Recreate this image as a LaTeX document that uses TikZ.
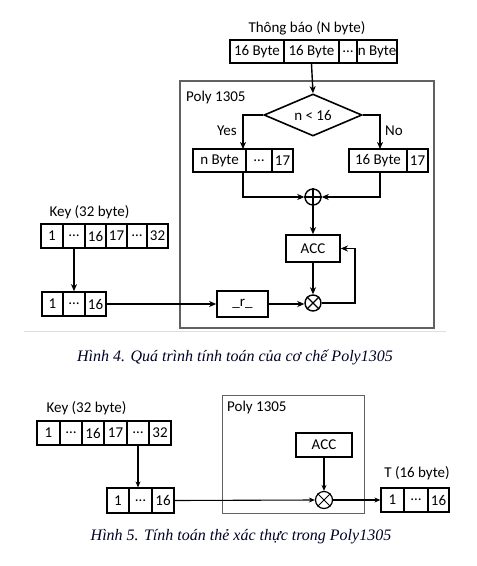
\documentclass[tikz,border=0pt]{standalone}
\usepackage{fontspec}
\setmainfont{Carlito}
\newfontfamily\capfont{Liberation Serif}
\usetikzlibrary{shapes.geometric,arrows.meta}
\tikzset{
  x=1pt,y=-1pt,
  every node/.style={font=\fontsize{15}{17}\selectfont},
  cell/.style={draw,line width=1.6pt,inner sep=0pt,minimum height=23pt},
  cellb/.style={draw,line width=1.2pt,inner sep=0pt,minimum height=24pt},
  lbl/.style={inner sep=0pt},
  arr/.style={line width=1.4pt,-{Stealth[length=7pt,width=6pt,inset=2pt]}},
  arrb/.style={line width=1.1pt,-{Stealth[length=6pt,width=5pt,inset=2pt]}},
  polybox/.style={draw=black!62,line width=1.2pt},
  opnode/.style={circle,draw,line width=1.4pt,minimum size=16pt,inner sep=0pt},
  capt/.style={font=\capfont\itshape\fontsize{16}{18}\selectfont,text=black!85!blue}
}
\begin{document}
\begin{tikzpicture}
\useasboundingbox (0,0) rectangle (477,566);
% ---------- Figure 4 ----------
\draw[polybox] (180,81) rectangle (434,328);
\node[lbl,anchor=west] (p4) at (186,97) {Poly 1305};
\node[lbl] (msgl) at (307,28) {Thông báo (N byte)};
\node[cell,minimum width=54pt] (m1) at (257,51.5) {16 Byte};
\node[cell,minimum width=55pt] (m2) at (311.5,51.5) {16 Byte};
\node[cell,minimum width=18pt] (m3) at (348,51.5) {…};
\node[cell,minimum width=40pt] (m4) at (377,51.5) {n Byte};
\node[diamond,draw,line width=1.6pt,aspect=2.33,minimum width=98pt,minimum height=42pt,inner sep=0pt] (d) at (313,115) {n < 16};
\draw[arr] (m2.south) -- (d.north);
% branches
\node[cell,minimum width=53pt] (a1) at (219.5,160.5) {n Byte};
\node[cell,minimum width=26pt] (a2) at (259,160.5) {…};
\node[cell,minimum width=21pt] (a3) at (282.5,160.5) {17};
\node[cell,minimum width=58pt] (b1) at (378,160.5) {16 Byte};
\node[cell,minimum width=21pt] (b2) at (417.5,160.5) {17};
\coordinate (ya) at (243,149);
\coordinate (nb) at (380,149);
\draw[arr] (d.west) -| (ya);
\draw[arr] (d.east) -| (nb);
\node[lbl] (yes) at (227,131) {Yes};
\node[lbl] (no) at (394,131) {No};
\node[opnode] (xor) at (313,197) {};
\draw[line width=1.1pt] (xor.north) -- (xor.south) (xor.west) -- (xor.east);
\coordinate (ya2) at (243,172);
\coordinate (nb2) at (380,172);
\draw[arr] (ya2) |- (xor.west);
\draw[arr] (nb2) |- (xor.east);
\node[cell,minimum width=54pt,minimum height=27pt] (acc) at (313,248.5) {ACC};
\draw[arr] (xor.south) -- (acc.north);
\node[opnode] (mul) at (313,303) {};
\draw[line width=1.1pt] (mul.north west) -- (mul.south east) (mul.north east) -- (mul.south west);
\draw[arr] (acc.south) -- (mul.north);
\node[cell,minimum width=51pt,minimum height=26pt] (r) at (242.5,304) {\_r\_};
\draw[arr] (r.east) -- (mul.west |- r.east);
\coordinate (fb) at (355,303);
\draw[arr] (mul.east) -- (fb) -- (fb |- acc.east) -- (acc.east);
% key
\node[lbl] (keyl) at (89.5,212) {Key (32 byte)};
\node[cell,minimum height=24pt,minimum width=22pt] (k1) at (52,236) {1};
\node[cell,minimum height=24pt,minimum width=22pt] (k2) at (74,236) {…};
\node[cell,minimum height=24pt,minimum width=21pt] (k3) at (95.5,236) {16};
\node[cell,minimum height=24pt,minimum width=21pt] (k4) at (116.5,236) {17};
\node[cell,minimum height=24pt,minimum width=20pt] (k5) at (137,236) {…};
\node[cell,minimum height=24pt,minimum width=21pt] (k6) at (157.5,236) {32};
\node[cell,minimum height=24pt,minimum width=21pt] (l1) at (52.5,304) {1};
\node[cell,minimum height=24pt,minimum width=22pt] (l2) at (74,304) {…};
\node[cell,minimum height=24pt,minimum width=21pt] (l3) at (95.5,304) {16};
\draw[arr] (k2.south) -- (l2.north);
\draw[arr] (l3.east) -- (r.west);
% separator
\coordinate (s1) at (24,331);
\coordinate (s2) at (446,331);
\draw[black!13,line width=1pt] (s1) -- (s2);
\node[capt] (c4) at (235,357) {Hình 4. Quá trình tính toán của cơ chế Poly1305};
% ---------- Figure 5 ----------
\draw[draw=black!62,line width=1pt] (222,395) rectangle (364,513);
\node[lbl,anchor=west] (p5) at (227,407) {Poly 1305};
\node[lbl] (key5) at (86.5,408) {Key (32 byte)};
\node[cellb,minimum width=23pt] (q1) at (48.5,433) {1};
\node[cellb,minimum width=22pt] (q2) at (71,433) {…};
\node[cellb,minimum width=22pt] (q3) at (93,433) {16};
\node[cellb,minimum width=23pt] (q4) at (115.5,433) {17};
\node[cellb,minimum width=22pt] (q5) at (138,433) {…};
\node[cellb,minimum width=22pt] (q6) at (160,433) {32};
\node[cellb,minimum width=22pt,minimum height=25pt] (u1) at (118,500.5) {1};
\node[cellb,minimum width=23pt,minimum height=25pt] (u2) at (140.5,500.5) {…};
\node[cellb,minimum width=22pt,minimum height=25pt] (u3) at (163,500.5) {16};
\draw[arrb] (q5.south) -- (q5.south |- u2.north);
\node[cellb,minimum width=56pt] (acc5) at (324,445) {ACC};
\node[circle,draw,line width=1.2pt,minimum size=17pt,inner sep=0pt] (mul5) at (324,500) {};
\draw[line width=1pt] (mul5.north west) -- (mul5.south east) (mul5.north east) -- (mul5.south west);
\draw[arrb] (acc5.south) -- (mul5.north);
\draw[arrb] (u3.east) -- (mul5.west);
\node[lbl] (tl) at (417,473) {T (16 byte)};
\node[cellb,minimum width=23pt] (t1) at (392.5,500) {1};
\node[cellb,minimum width=24pt] (t2) at (416,500) {…};
\node[cellb,minimum width=21pt] (t3) at (438.5,500) {16};
\draw[arrb] (mul5.east) -- (t1.west);
\node[capt] (c5) at (241,537) {Hình 5. Tính toán thẻ xác thực trong Poly1305};
\end{tikzpicture}
\end{document}
